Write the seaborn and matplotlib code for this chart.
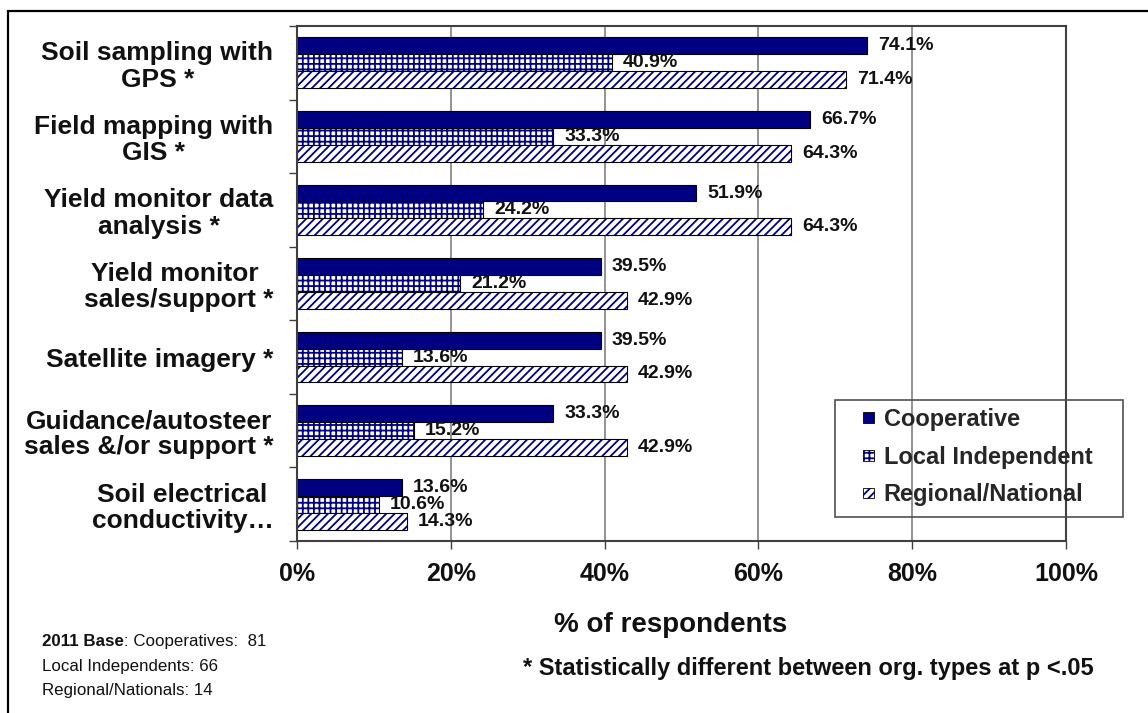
import matplotlib
matplotlib.use("Agg")
import matplotlib.pyplot as plt
import matplotlib.colors as mcolors
from matplotlib.patches import Rectangle, Patch
from matplotlib.legend_handler import HandlerPatch
import numpy as np
import pandas as pd
import seaborn as sns

# ---- data ----
categories = ["Soil sampling with\nGPS *", "Field mapping with\nGIS *",
              "Yield monitor data\nanalysis *", "Yield monitor \nsales/support *",
              "Satellite imagery *", "Guidance/autosteer\nsales &/or support *",
              "Soil electrical\nconductivity\u2026"]
series_names = ["Cooperative", "Local Independent", "Regional/National"]
cooperative = [74.1, 66.7, 51.9, 39.5, 39.5, 33.3, 13.6]
local_independent = [40.9, 33.3, 24.2, 21.2, 13.6, 15.2, 10.6]
regional_national = [71.4, 64.3, 64.3, 42.9, 42.9, 42.9, 14.3]
x_ticks = [0, 20, 40, 60, 80, 100]
x_tick_labels = ["0%", "20%", "40%", "60%", "80%", "100%"]

NAVY = "#000080"
W, H = 1148, 713

sns.set_theme(style="white")
plt.rcParams["font.family"] = ["Liberation Sans", "DejaVu Sans"]
plt.rcParams["hatch.linewidth"] = 1.3

df = pd.DataFrame({
    "category": categories * 3,
    "value": cooperative + local_independent + regional_national,
    "org": sum([[n] * len(categories) for n in series_names], []),
})

fig = plt.figure(figsize=(W / 100, H / 100), dpi=100)
ax = fig.add_axes([297 / W, 1 - 541 / H, 769 / W, 515 / H])

sns.barplot(data=df, y="category", x="value", hue="org", order=categories,
            hue_order=series_names, orient="h", width=0.69, saturation=1,
            errorbar=None, palette=[NAVY, "white", "white"], legend=False, ax=ax)

hatches = [None, "+++", "////"]
for cont, hatch in zip(ax.containers, hatches):
    for p in cont:
        p.set_edgecolor("black")
        p.set_linewidth(0.8)
        if hatch:
            p.set_hatch(hatch)
            p._hatch_color = mcolors.to_rgba(NAVY)
            p.stale = True

vals = [cooperative, local_independent, regional_national]
for cont, v in zip(ax.containers, vals):
    ax.bar_label(cont, labels=[f"{x:.1f}%" for x in v], padding=8,
                 fontsize=14, fontweight="bold", color="#111111")

ax.set_xlim(0, 100)
ax.set_ylim(6.5, -0.5)
ax.set_xticks(x_ticks)
ax.set_xticklabels(x_tick_labels, fontsize=18, fontweight="bold", color="#111111")
ax.set_yticks(range(len(categories)))
ax.set_yticklabels(categories, fontsize=19, fontweight="bold", color="#111111",
                   multialignment="center", linespacing=1.12)
ax.set_yticks(np.arange(-0.5, len(categories), 1), minor=True)
ax.tick_params(axis="y", which="major", length=0, pad=17)
ax.tick_params(axis="y", which="minor", left=True, length=6, width=1, color="#404040")
ax.tick_params(axis="x", which="major", bottom=True, length=6, width=1,
               color="#404040", pad=9)
ax.set_xlabel("")
ax.set_ylabel("")

for xv in x_ticks[1:-1]:
    ax.axvline(xv, color="#808080", lw=1.2, zorder=0)
for s in ax.spines.values():
    s.set_color("#404040")
    s.set_linewidth(1.5)
    s.set_visible(True)


# legend (frameless, custom frame drawn separately)
def square_patch(legend, orig_handle, xdescent, ydescent, width, height, fontsize):
    s = 7.6
    return Rectangle((-xdescent + width - s, -ydescent + (height - s) / 2), s, s)


handles = [Patch(facecolor=NAVY, edgecolor="black", lw=0.6),
           Patch(facecolor="white", edgecolor="black", lw=0.6, hatch="+++"),
           Patch(facecolor="white", edgecolor="black", lw=0.6, hatch="////")]
for h in handles[1:]:
    h._hatch_color = mcolors.to_rgba(NAVY)
leg = fig.legend(handles, series_names, loc="upper left",
                 bbox_to_anchor=(863 / W, 1 - 408 / H), frameon=False,
                 borderpad=0, borderaxespad=0, handlelength=0.45, handleheight=0.7,
                 handletextpad=0.42, labelspacing=0.62,
                 handler_map={Patch: HandlerPatch(patch_func=square_patch)},
                 prop={"size": 17, "weight": "bold"})
fig.add_artist(Rectangle((835 / W, 1 - 517 / H), 288 / W, 117 / H,
                         transform=fig.transFigure, facecolor="none",
                         edgecolor="#505050", lw=1.2, zorder=5))

# outer border
fig.add_artist(Rectangle((8 / W, -0.1), 1.2, 1.1 - 11 / H, transform=fig.transFigure,
                         facecolor="none", edgecolor="black", lw=1.6))

# axis title and notes
fig.text(671 / W, 1 - 625 / H, "% of respondents", ha="center", va="center",
         fontsize=20, fontweight="bold", color="#111111")
fig.text(808 / W, 1 - 668 / H, "* Statistically different between org. types at p <.05",
         ha="center", va="center", fontsize=17, fontweight="bold", color="#111111")

t1 = fig.text(42 / W, 1 - 646 / H, "2011 Base", ha="left", va="baseline",
              fontsize=12.2, fontweight="bold", color="#111111")
ax.annotate(": Cooperatives:  81", xy=(1, 0), xycoords=t1, ha="left", va="bottom",
            fontsize=12.2, color="#111111", annotation_clip=False)
fig.text(42 / W, 1 - 666 / H, "Local Independents: 66", ha="left", va="center",
         fontsize=12.2, color="#111111")
fig.text(42 / W, 1 - 691 / H, "Regional/Nationals: 14", ha="left", va="center",
         fontsize=12.2, color="#111111")

fig.savefig("out.png", dpi=100, facecolor="white")
